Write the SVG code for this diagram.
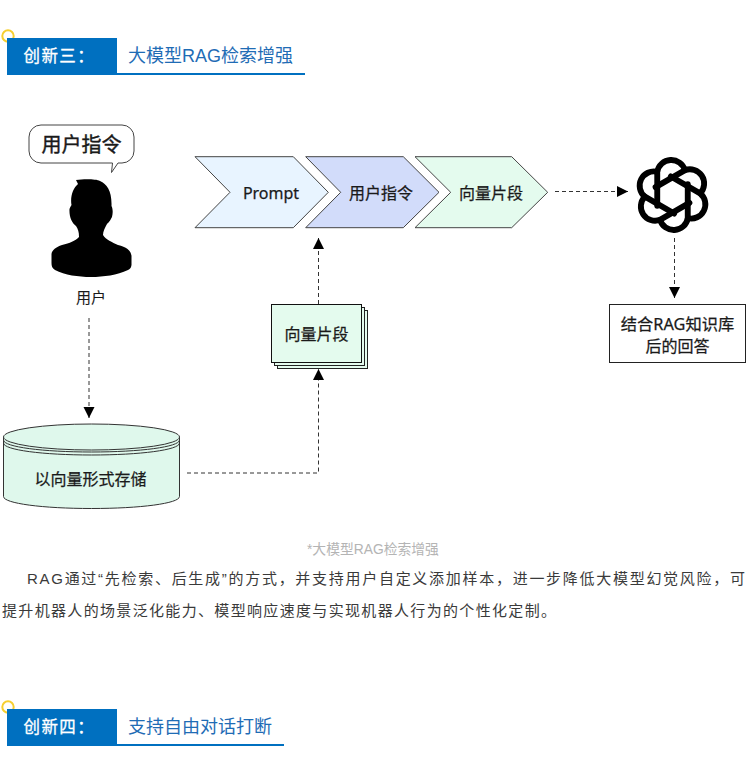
<svg xmlns="http://www.w3.org/2000/svg" xmlns:xlink="http://www.w3.org/1999/xlink" width="749" height="784" viewBox="0 0 749 784">
<style>
text{font-family:"Liberation Sans","Noto Sans CJK SC",sans-serif}
.d{fill:#1a1a1a;stroke:#1a1a1a;stroke-width:.25px;font-family:"Noto Sans","Noto Sans CJK SC",sans-serif;font-size:16px;text-anchor:middle;font-weight:400}
.hw{fill:#fff;stroke:#fff;stroke-width:.3px;font-size:16.500px;font-weight:400;letter-spacing:1.400px}
.hb{fill:#1f6cb5;font-size:18px}
.p{fill:#3a3a3a;font-size:15px}
.c{fill:none;stroke:#333;stroke-width:1;stroke-dasharray:4 3}
.s{stroke:#444;stroke-width:1}
</style>
<defs>
<marker id="a" markerUnits="userSpaceOnUse" markerWidth="12" markerHeight="12" refX="11" refY="6" orient="auto"><path d="M0 .5L11 6L0 11.500Z" fill="#000"/></marker>
<path id="lobe" d="M-13.500 9.500V-20.500A12.600 12.600 0 0 1 11 -22" fill="none" stroke="#000" stroke-width="5.200" stroke-linecap="round"/>
</defs>
<rect width="749" height="784" fill="#fff"/>
<g id="header3">
<circle cx="8" cy="36" r="5.700" fill="none" stroke="#f6cf30" stroke-width="2"/>
<rect x="7" y="38" width="110" height="37" fill="#0070c0"/>
<rect x="117" y="73" width="188" height="2" fill="#0070c0"/>
<text class="hw" x="23.500" y="62">创新三：</text>
<text class="hb" x="128" y="62">大模型RAG检索增强</text>
</g>
<g id="connectors">
<path class="c" d="M89 318V418" marker-end="url(#a)"/>
<path class="c" d="M187 473H318.500V369" marker-end="url(#a)"/>
<path class="c" d="M318.500 304V238" marker-end="url(#a)"/>
<path class="c" d="M555 191.500H628" marker-end="url(#a)"/>
<path class="c" d="M674.500 238V298" marker-end="url(#a)"/>
</g>
<g id="user">
<path d="M76 180C84 179 96 179 100 181C107 184 112 191 111.500 206C113 209 113 213 112 217C110 221 109 222 107 224C105 228 103 231 103 235C106 240 112 242 118 245C126 247 131 250 131.500 256V265C131 268 130 269 128 270C117 275 104 277 91 277C78 277 65 275 55 270C52 268 51.500 266 51.500 263V254C52 250 56 247 62 245C70 243 75 241 79 237C79 232 78 229 76 226C72 223 69 217 69.500 209C70 207 71 206 71.500 205C70 197 73 188 78 184Z" fill="#000"/>
<text class="d" x="91" y="303" style="font-size:15px;stroke-width:.1px">用户</text>
</g>
<g id="bubble">
<path class="s" d="M41 125H122A12 12 0 0 1 134 137V151A12 12 0 0 1 122 163H118L111.500 172.500L112.500 163H41A12 12 0 0 1 29 151V137A12 12 0 0 1 41 125Z" fill="#fff"/>
<text class="d" x="81.500" y="152" style="font-size:20px;stroke-width:.4px">用户指令</text>
</g>
<g id="chevron-prompt">
<path class="s" d="M195 156.700H293.300L328.300 192.300L293.300 227.700H195L230 192.300Z" fill="#e8f4ff"/>
<text class="d" x="271" y="199">Prompt</text>
</g>
<g id="chevron-instruction">
<path class="s" d="M305.700 156.700H403.300L439 192.300L403.300 227.700H305.700L340.700 192.300Z" fill="#d2dcfa"/>
<text class="d" x="381" y="199">用户指令</text>
</g>
<g id="chevron-fragment">
<path class="s" d="M415 156.700H511.700L547.700 192.300L511.700 227.700H415L450.700 192.300Z" fill="#e4fbee"/>
<text class="d" x="491" y="199">向量片段</text>
</g>
<g id="openai-logo" transform="translate(672.500 195) scale(1.130)">
<use xlink:href="#lobe" href="#lobe"/>
<use xlink:href="#lobe" href="#lobe" transform="rotate(60)"/>
<use xlink:href="#lobe" href="#lobe" transform="rotate(120)"/>
<use xlink:href="#lobe" href="#lobe" transform="rotate(180)"/>
<use xlink:href="#lobe" href="#lobe" transform="rotate(240)"/>
<use xlink:href="#lobe" href="#lobe" transform="rotate(300)"/>
</g>
<g id="answer">
<rect x="609.500" y="304.500" width="136" height="58" fill="#fff" stroke="#222"/>
<text class="d" x="677.500" y="330" style="font-size:16.300px">结合RAG知识库</text>
<text class="d" x="677.500" y="352">后的回答</text>
</g>
<g id="fragment-stack">
<rect x="277.500" y="310.500" width="90" height="58" fill="#e4fbee" stroke="#222"/>
<rect x="274.500" y="307.500" width="90" height="58" fill="#e4fbee" stroke="#222"/>
<rect x="271.500" y="304.500" width="90" height="58" fill="#e4fbee" stroke="#111"/>
<text class="d" x="316.500" y="340">向量片段</text>
</g>
<g id="database">
<path d="M3.500 437V496.500C3.500 503.500 43 508.500 91.500 508.500S179.500 503.500 179.500 496.500V437Z" fill="#dff8ec" stroke="#333"/>
<path d="M3.500 443C3.500 450 43 455 91.500 455S179.500 450 179.500 443" fill="none" stroke="#333"/>
<path d="M3.500 440C3.500 447 43 452 91.500 452S179.500 447 179.500 440" fill="#dff8ec" stroke="#333"/>
<ellipse cx="91.500" cy="437" rx="88" ry="13" fill="#dff8ec" stroke="#333"/>
<text class="d" x="90.500" y="485">以向量形式存储</text>
</g>
<g id="body">
<text x="307" y="554" style="fill:#b4b4b4;font-size:13.800px">*大模型RAG检索增强</text>
<text class="p" x="27" y="583.500" textLength="718" lengthAdjust="spacing">RAG通过“先检索、后生成”的方式，并支持用户自定义添加样本，进一步降低大模型幻觉风险，可</text>
<text class="p" x="2" y="616" textLength="554" lengthAdjust="spacing">提升机器人的场景泛化能力、模型响应速度与实现机器人行为的个性化定制。</text>
</g>
<g id="header4">
<circle cx="8" cy="707" r="5.700" fill="none" stroke="#f6cf30" stroke-width="2"/>
<rect x="7" y="709" width="110" height="37" fill="#0070c0"/>
<rect x="117" y="744" width="167" height="2" fill="#0070c0"/>
<text class="hw" x="23.500" y="733">创新四：</text>
<text class="hb" x="128" y="733">支持自由对话打断</text>
</g>
</svg>
